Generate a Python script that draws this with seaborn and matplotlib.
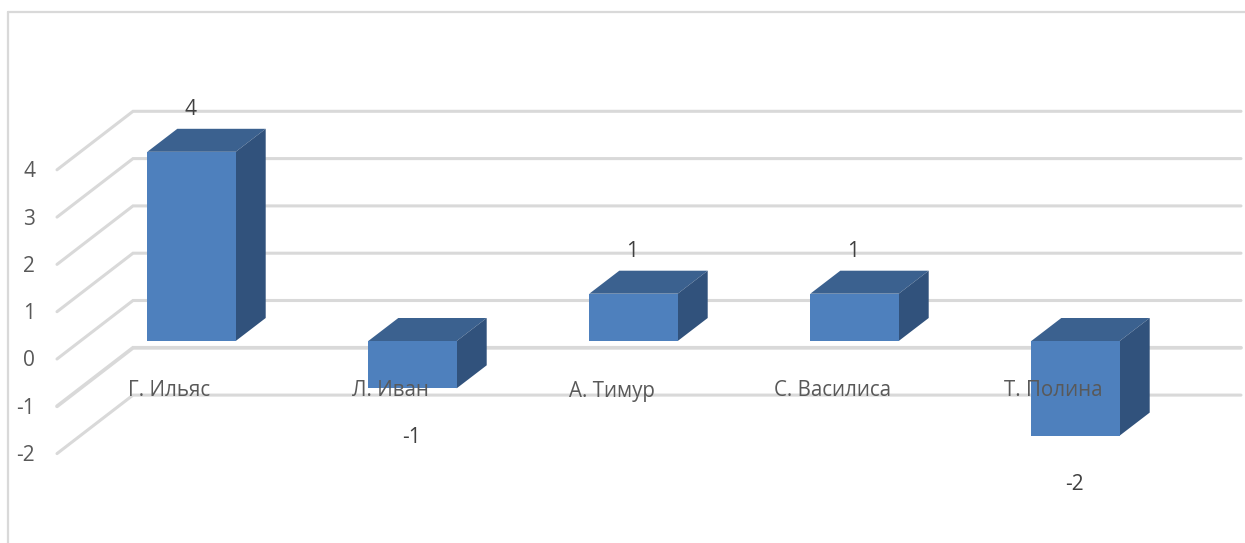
import matplotlib
matplotlib.use("Agg")
import matplotlib.pyplot as plt
import pandas as pd
import seaborn as sns

names = ["Г. Ильяс", "Л. Иван", "А. Тимур", "С. Василиса", "Т. Полина"]
scores = [4, -1, 1, 1, -2]
axis_levels = [4, 3, 2, 1, 0, -1, -2]

FRONT = "#4e80bd"
TOP = "#3b618f"
SIDE = "#31527c"
GRID = "#d9d9d9"
TEXT = "#595959"
LABEL = "#404040"

W, H = 1245, 543
ORIGIN_X, ORIGIN_Y = 191.5, 341.0
STEP_PX, UNIT_PX = 221.0, 47.3
BAR_W = 0.4

sns.set_theme(style="white")
plt.rcParams["font.family"] = ["Open Sans", "DejaVu Sans"]

fig = plt.figure(figsize=(W / 100, H / 100), dpi=100)
ax = fig.add_axes([0, 0, 1, 1])
x_limits = (-ORIGIN_X / STEP_PX, (W - ORIGIN_X) / STEP_PX)
y_limits = ((ORIGIN_Y - H) / UNIT_PX, ORIGIN_Y / UNIT_PX)
ax.set_xlim(x_limits)
ax.set_ylim(y_limits)
ax.patch.set_alpha(0)


def dx(px):
    return px / STEP_PX


def dy(px):
    return px / UNIT_PX


# oblique depth of the bars and of the floor/wall
bar_dx, bar_dy = dx(30), dy(23)
wall_dx, wall_dy = dx(76), dy(58)
back_shift = dy(40.5)    # back wall zero sits above the bar baseline
front_shift = dy(-18)    # front edge of the side wall sits below it
wall_x0 = dx(57 - ORIGIN_X)
wall_x1 = dx(133 - ORIGIN_X)
grid_x1 = dx(1241 - ORIGIN_X)

# chart frame
frame_x, frame_top = dx(8 - ORIGIN_X), (ORIGIN_Y - 12) / UNIT_PX
ax.plot([frame_x, frame_x], [frame_top, y_limits[0]], color=GRID, lw=1.6, zorder=1)
ax.plot([frame_x, x_limits[1]], [frame_top, frame_top], color=GRID, lw=1.6, zorder=1)

# gridlines: a slanted stub on the side wall, then along the back wall
for level in axis_levels:
    y_back = level + back_shift
    y_front = level + front_shift
    ax.plot([wall_x0, wall_x1, grid_x1], [y_front, y_back, y_back],
            color=GRID, lw=2.7 if level == -1 else 2.2,
            solid_joinstyle="miter", zorder=1)
    ax.text(dx(35 - ORIGIN_X), y_front - dy(2), str(level), ha="right", va="center",
            fontsize=15, color=TEXT, zorder=6)

table = pd.DataFrame({"name": names, "score": scores})
sns.barplot(data=table, x="name", y="score", color=FRONT, saturation=1,
            width=BAR_W, ax=ax, zorder=4, legend=False, linewidth=0, edgecolor="none")
ax.set_xlim(x_limits)
ax.set_ylim(y_limits)
ax.set_xlabel("")
ax.set_ylabel("")
ax.set_xticks([])
ax.set_yticks([])
for spine in ax.spines.values():
    spine.set_visible(False)

for i, (name, score) in enumerate(zip(names, scores)):
    left, right = i - BAR_W / 2, i + BAR_W / 2
    high, low = max(score, 0), min(score, 0)
    ax.fill([left, right, right + bar_dx, left + bar_dx],
            [high, high, high + bar_dy, high + bar_dy],
            color=TOP, lw=0, zorder=3)
    ax.fill([right, right + bar_dx, right + bar_dx, right],
            [low, low + bar_dy, high + bar_dy, high],
            color=SIDE, lw=0, zorder=3)
    # category names sit on the axis line, over the bars
    ax.text(i - dx(22), dy(-50), name, ha="center", va="center",
            fontsize=14.8, color=TEXT, zorder=6)
    gap = dy(42) if score > 0 else dy(-49)
    ax.text(i - dx(1), score + gap, str(score), ha="center", va="center",
            fontsize=15, color=LABEL, zorder=6)

fig.savefig("out.png", dpi=100, facecolor="white")
